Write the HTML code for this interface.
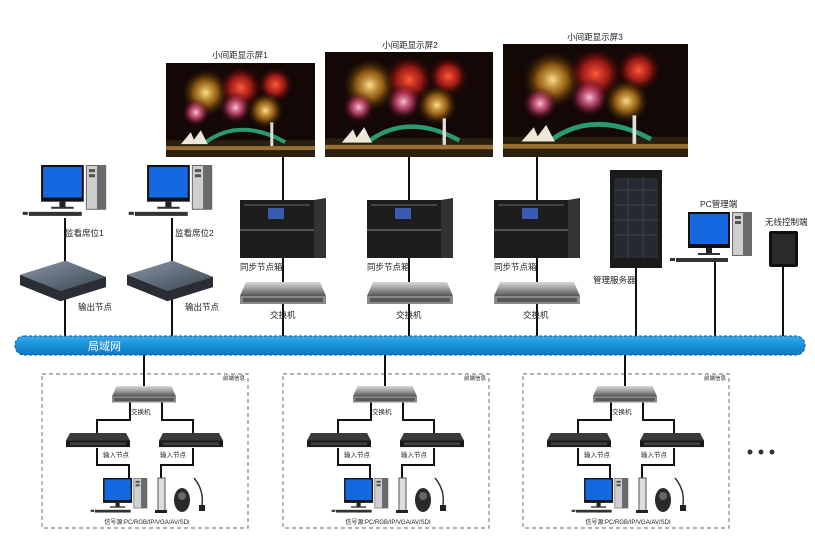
<!DOCTYPE html>
<html><head><meta charset="utf-8"><style>
html,body{margin:0;padding:0;background:#fff;}
svg{display:block;}
text{font-family:"Liberation Sans","Noto Sans CJK SC",sans-serif;fill:#222;}
</style></head><body>
<svg width="815" height="542" viewBox="0 0 815 542" xmlns="http://www.w3.org/2000/svg">
<defs>
<radialGradient id="bR"><stop offset="0" stop-color="#ff5a3a"/><stop offset=".5" stop-color="#c0201a" stop-opacity=".8"/><stop offset="1" stop-color="#300" stop-opacity="0"/></radialGradient>
<radialGradient id="bY"><stop offset="0" stop-color="#ffe08a"/><stop offset=".5" stop-color="#c8801a" stop-opacity=".7"/><stop offset="1" stop-color="#320" stop-opacity="0"/></radialGradient>
<radialGradient id="bP"><stop offset="0" stop-color="#ffc0d8"/><stop offset=".5" stop-color="#d04070" stop-opacity=".7"/><stop offset="1" stop-color="#301" stop-opacity="0"/></radialGradient>
<linearGradient id="lan" x1="0" y1="0" x2="0" y2="1"><stop offset="0" stop-color="#3aa8e8"/><stop offset=".5" stop-color="#1890d8"/><stop offset="1" stop-color="#0f78c0"/></linearGradient>
<linearGradient id="sw" x1="0" y1="0" x2="0" y2="1"><stop offset="0" stop-color="#d8d8d8"/><stop offset=".5" stop-color="#9a9a9a"/><stop offset="1" stop-color="#555"/></linearGradient>
<linearGradient id="box" x1="0" y1="0" x2="1" y2="1"><stop offset="0" stop-color="#8a98a8"/><stop offset="1" stop-color="#3a4450"/></linearGradient>
<symbol id="scr" viewBox="0 0 150 95" preserveAspectRatio="none">
<rect width="150" height="95" fill="#140806"/>
<circle cx="40" cy="30" r="24" fill="url(#bY)"/>
<circle cx="75" cy="25" r="22" fill="url(#bR)"/>
<circle cx="110" cy="22" r="18" fill="url(#bR)"/>
<circle cx="70" cy="45" r="16" fill="url(#bP)"/>
<circle cx="100" cy="48" r="18" fill="url(#bY)"/>
<circle cx="30" cy="50" r="14" fill="url(#bP)"/>
<rect x="0" y="78" width="150" height="17" fill="#2a2010"/>
<path d="M40 80 Q75 55 120 80" stroke="#2a9a70" stroke-width="4" fill="none"/>
<path d="M15 82 L25 70 L30 82 Z M25 82 L35 68 L42 82 Z" fill="#eee8d8"/>
<rect x="0" y="84" width="150" height="4" fill="#c89040" opacity=".7"/>
<rect x="105" y="60" width="3" height="24" fill="#ddd"/>
</symbol>
<symbol id="pc" viewBox="0 0 85 55">
<rect x="18" y="0" width="42" height="36" fill="#111"/>
<rect x="20" y="2" width="38" height="30" fill="#1468e0"/>
<rect x="36" y="36" width="6" height="6" fill="#222"/>
<rect x="28" y="41" width="22" height="2" fill="#333"/>
<rect x="62" y="0" width="20" height="44" fill="#6a6a6a"/>
<rect x="63" y="1" width="10" height="42" fill="#cfcfcf"/>
<rect x="65" y="4" width="6" height="3" fill="#555"/><rect x="65" y="9" width="6" height="3" fill="#555"/>
<rect x="6" y="46" width="52" height="4" fill="#333"/>
<rect x="0" y="46" width="5" height="3" fill="#333"/>
</symbol>
<symbol id="onode" viewBox="0 0 85 40">
<path d="M0 14 L45 0 L85 16 L85 26 L40 40 L0 24 Z" fill="#2a2e34"/>
<path d="M0 14 L45 0 L85 16 L40 30 Z" fill="url(#box)"/>
</symbol>
<symbol id="sync" viewBox="0 0 86 64">
<rect x="0" y="4" width="74" height="58" fill="#1d1d1d"/>
<path d="M74 4 L86 2 L86 62 L74 62Z" fill="#333"/>
<rect x="0" y="33" width="74" height="2" fill="#555"/>
<rect x="28" y="12" width="16" height="11" fill="#3a5ab0"/>
<rect x="4" y="8" width="66" height="2" fill="#444"/>
</symbol>
<symbol id="swi" viewBox="0 0 86 24" preserveAspectRatio="none">
<path d="M6 0 L80 0 L86 14 L0 14 Z" fill="url(#sw)"/>
<rect x="0" y="14" width="86" height="8" fill="#8a8a8a"/>
<rect x="3" y="16" width="80" height="4" fill="#333" opacity=".6"/>
</symbol>
<symbol id="inode" viewBox="0 0 64 16" preserveAspectRatio="none">
<path d="M4 0 L60 0 L64 8 L0 8Z" fill="#3a3a3a"/>
<rect x="0" y="8" width="64" height="7" fill="#1a1a1a"/>
<rect x="4" y="10" width="56" height="3" fill="#666" opacity=".5"/>
</symbol>
<g id="front" stroke="#111" stroke-width="2" fill="none">
<rect x="42" y="374" width="206" height="154" stroke="#888" stroke-width="1.2" stroke-dasharray="4 3"/>
<path d="M144 355 V390"/>
<path d="M130 402 V420 H97 V435"/>
<path d="M162 402 V420 H193 V435"/>
<path d="M97 448 V465 H129 V480"/>
<path d="M193 448 V465 H161 V480"/>
</g>
<g id="frontdev">
<use href="#swi" x="112" y="386" width="64" height="18"/>
<use href="#inode" x="66" y="433" width="64" height="15"/>
<use href="#inode" x="159" y="433" width="64" height="15"/>
<use href="#pc" x="85" y="478" width="70" height="38"/>
<rect x="158" y="478" width="7" height="34" fill="#ddd" stroke="#555"/>
<rect x="155" y="510" width="12" height="3" fill="#222"/>
<ellipse cx="182" cy="500" rx="8" ry="12" fill="#2a2a2a"/>
<circle cx="182" cy="496" r="4" fill="#666"/>
<path d="M194 478 Q204 490 202 505" stroke="#333" stroke-width="1.5" fill="none"/>
<rect x="199" y="505" width="6" height="6" fill="#222"/>
</g>
</defs>

<!-- screens -->
<use href="#scr" x="166" y="63" width="149" height="94"/>
<use href="#scr" x="325" y="52" width="168" height="105"/>
<use href="#scr" x="503" y="44" width="185" height="113"/>
<g font-size="8.5" text-anchor="middle">
<text x="240" y="58">小间距显示屏1</text>
<text x="410" y="48">小间距显示屏2</text>
<text x="595" y="40">小间距显示屏3</text>
</g>

<!-- vertical connectors -->
<g stroke="#111" stroke-width="2">
<line x1="65" y1="218" x2="65" y2="337"/>
<line x1="172" y1="218" x2="172" y2="337"/>
<line x1="283" y1="157" x2="283" y2="337"/>
<line x1="409" y1="157" x2="409" y2="337"/>
<line x1="537" y1="157" x2="537" y2="337"/>
<line x1="636" y1="265" x2="636" y2="337"/>
<line x1="715" y1="262" x2="715" y2="337"/>
<line x1="783" y1="265" x2="783" y2="337"/>
</g>

<!-- monitoring seats -->
<use href="#pc" x="14" y="165" width="104" height="56"/>
<use href="#pc" x="120" y="165" width="104" height="56"/>
<use href="#onode" x="20" y="260" width="86" height="42"/>
<use href="#onode" x="127" y="260" width="86" height="42"/>
<g font-size="8.5">
<text x="65" y="236">监看席位1</text>
<text x="175" y="236">监看席位2</text>
<text x="78" y="310">输出节点</text>
<text x="185" y="310">输出节点</text>
</g>

<!-- sync + switches -->
<use href="#sync" x="240" y="196" width="86" height="64"/>
<use href="#sync" x="367" y="196" width="86" height="64"/>
<use href="#sync" x="494" y="196" width="86" height="64"/>
<use href="#swi" x="240" y="282" width="86" height="24"/>
<use href="#swi" x="367" y="282" width="86" height="24"/>
<use href="#swi" x="494" y="282" width="86" height="24"/>
<g font-size="8.5">
<text x="240" y="270">同步节点箱</text>
<text x="367" y="270">同步节点箱</text>
<text x="494" y="270">同步节点箱</text>
<text x="270" y="318">交换机</text>
<text x="396" y="318">交换机</text>
<text x="523" y="318">交换机</text>
</g>

<!-- server, pc mgmt, tablet -->
<rect x="610" y="170" width="52" height="98" fill="#1a1a1a"/>
<rect x="614" y="178" width="44" height="80" fill="#262a30"/>
<g stroke="#3a4450" stroke-width="1"><line x1="614" y1="190" x2="658" y2="190"/><line x1="614" y1="205" x2="658" y2="205"/><line x1="614" y1="220" x2="658" y2="220"/><line x1="614" y1="235" x2="658" y2="235"/><line x1="628" y1="178" x2="628" y2="258"/><line x1="643" y1="178" x2="643" y2="258"/></g>
<use href="#pc" x="670" y="212" width="85" height="55"/>
<rect x="769" y="231" width="29" height="36" rx="2" fill="#111"/>
<rect x="772" y="234" width="23" height="30" fill="#2a2a2a"/>
<g font-size="8.5">
<text x="593" y="283">管理服务器</text>
<text x="700" y="207">PC管理端</text>
<text x="765" y="225">无线控制端</text>
</g>

<!-- LAN -->
<rect x="15" y="336" width="790" height="19" rx="9" fill="url(#lan)" stroke="#0a5a9a" stroke-width="1" stroke-dasharray="3 2"/>
<text x="88" y="350" font-size="11" style="fill:#fff">局域网</text>

<!-- front ends -->
<use href="#front"/>
<use href="#front" transform="translate(241,0)"/>
<use href="#front" transform="translate(481,0)"/>
<use href="#frontdev"/>
<use href="#frontdev" transform="translate(241,0)"/>
<use href="#frontdev" transform="translate(481,0)"/>
<g font-size="5.5">
<text x="223" y="380">前端信息</text>
<text x="464" y="380">前端信息</text>
<text x="704" y="380">前端信息</text>
</g>
<g font-size="6.5">
<text x="131" y="414">交换机</text><text x="372" y="414">交换机</text><text x="612" y="414">交换机</text>
<text x="103" y="457">输入节点</text><text x="160" y="457">输入节点</text>
<text x="344" y="457">输入节点</text><text x="401" y="457">输入节点</text>
<text x="584" y="457">输入节点</text><text x="641" y="457">输入节点</text>
</g>
<g font-size="6" text-anchor="middle">
<text x="147" y="524">信号源:PC/RGB/IP/VGA/AV/SDI</text>
<text x="388" y="524">信号源:PC/RGB/IP/VGA/AV/SDI</text>
<text x="628" y="524">信号源:PC/RGB/IP/VGA/AV/SDI</text>
</g>
<g fill="#333"><circle cx="750" cy="452" r="2.5"/><circle cx="761" cy="452" r="2.5"/><circle cx="772" cy="452" r="2.5"/></g>
</svg>
</body></html>
